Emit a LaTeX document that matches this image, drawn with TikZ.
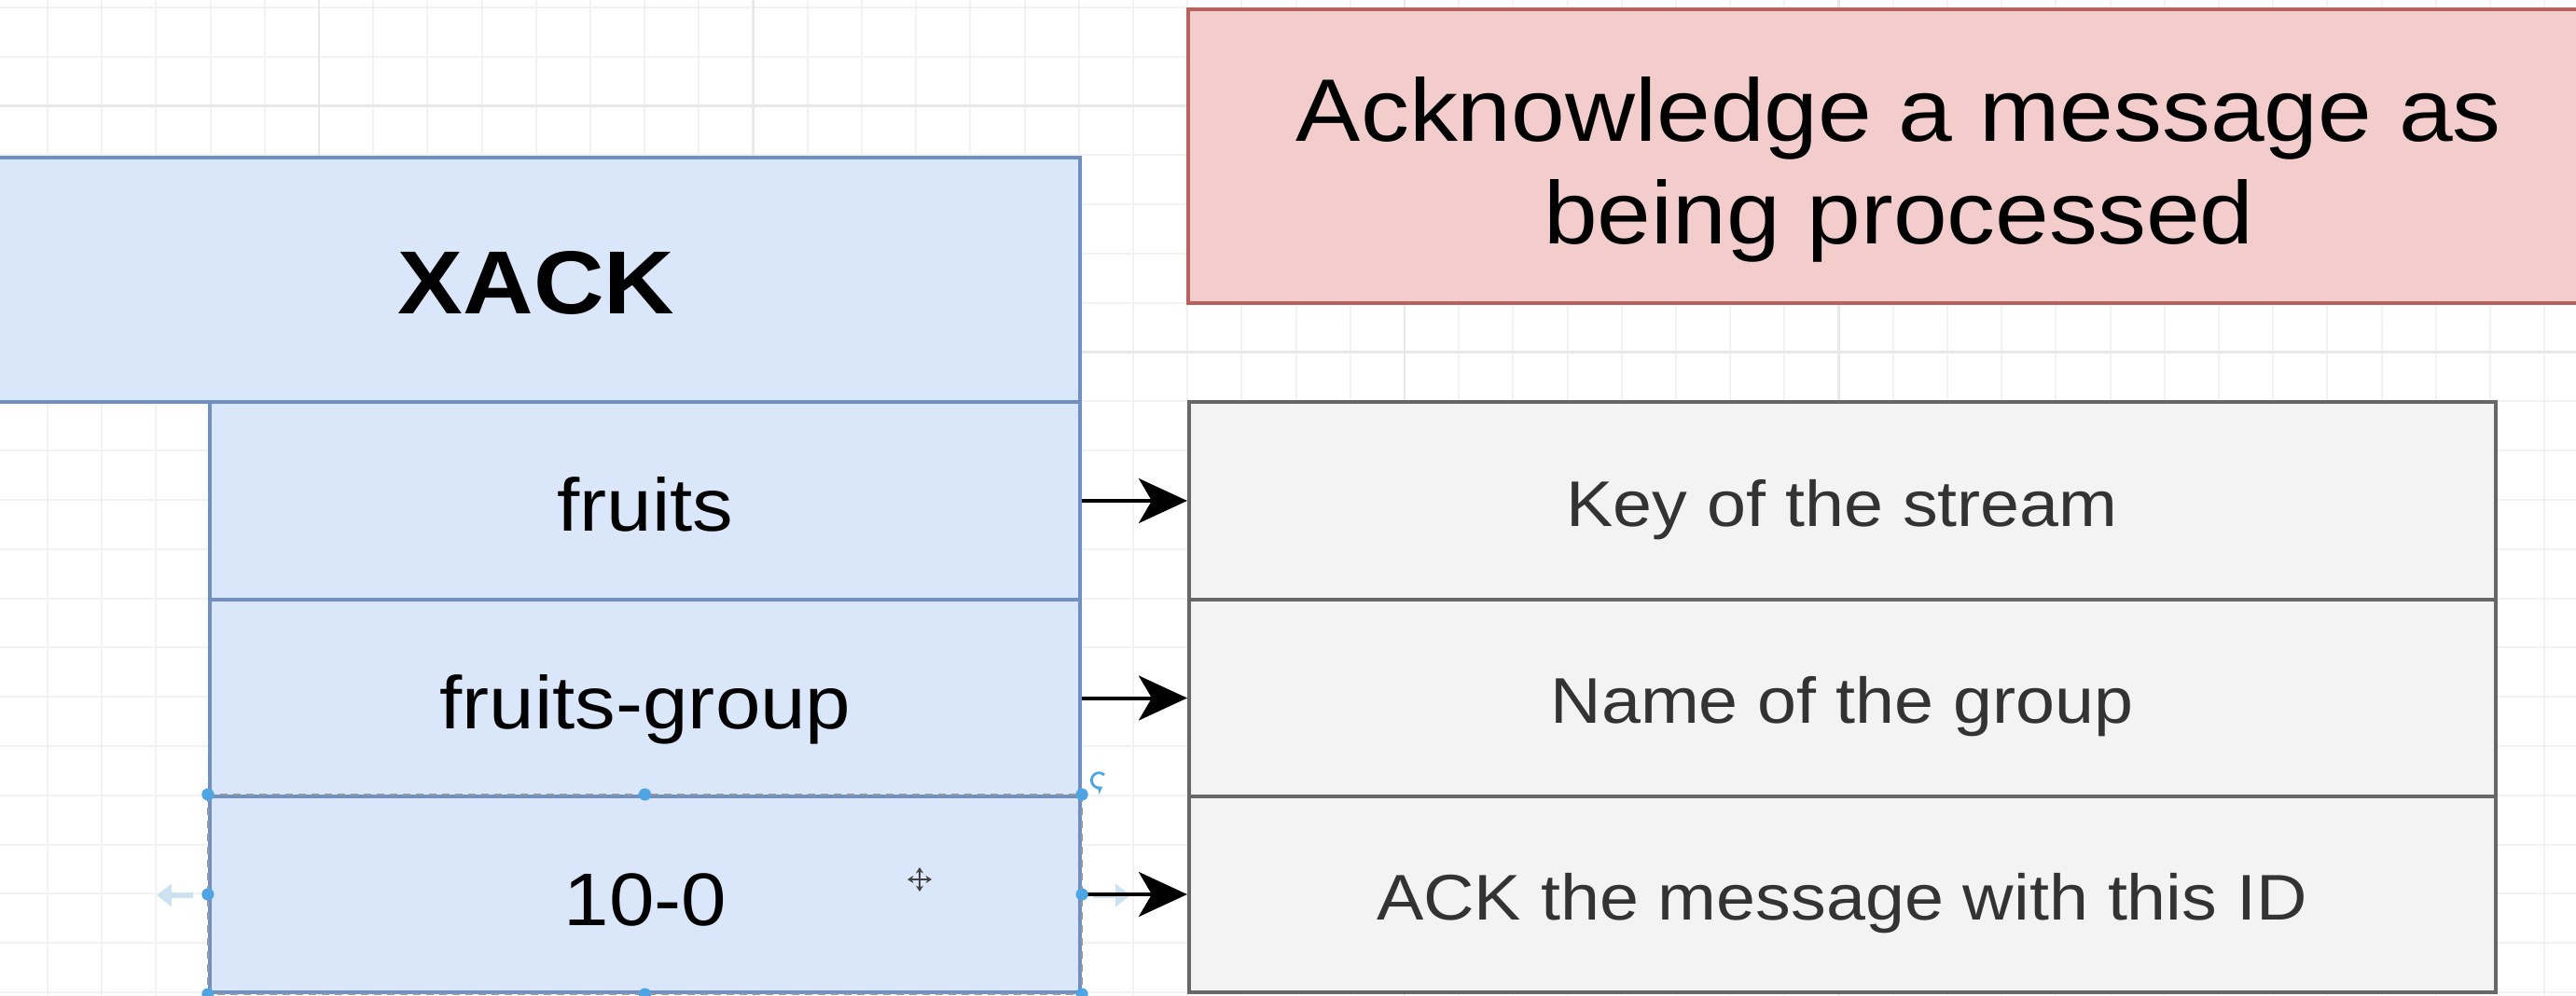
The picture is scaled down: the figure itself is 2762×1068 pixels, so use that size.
\documentclass[tikz,border=0pt]{standalone}
\usepackage{fontspec}
\setmainfont{Liberation Sans}
\usetikzlibrary{arrows.meta,fit,calc}
\definecolor{bfill}{HTML}{DAE6FA}
\definecolor{bline}{HTML}{7190C2}
\definecolor{rfill}{HTML}{F2CDCB}
\definecolor{rline}{HTML}{B7625E}
\definecolor{gfill}{HTML}{F3F3F3}
\definecolor{gline}{HTML}{676767}
\definecolor{gtext}{HTML}{333333}
\definecolor{gridminor}{HTML}{F2F2F2}
\definecolor{gridmajor}{HTML}{E8E8E8}
\definecolor{handle}{HTML}{4FA5E3}
\definecolor{ghost}{HTML}{CCE2F1}
\newcommand\sx[1]{\scalebox{1.09}[1]{#1}}
\begin{document}
\begin{tikzpicture}[x=0.25pt,y=-0.25pt,
  box/.style={inner sep=0pt, line width=1.05pt},
  bluebox/.style={box, draw=bline, fill=bfill},
  graybox/.style={box, draw=gline, fill=gfill},
  redbox/.style={box, draw=rline, fill=rfill},
  lbl/.style={anchor=base, inner sep=0pt},
  bluetext/.style={lbl, font=\fontsize{20}{24}\selectfont},
  graytext/.style={lbl, text=gtext, font=\fontsize{17.3}{20}\selectfont},
  redtext/.style={lbl, font=\fontsize{23.8}{28}\selectfont},
  conn/.style={line width=1pt, -{Stealth[length=13pt,width=12pt,inset=3.5pt]}},
  ghostarrow/.style={ghost, line width=1.6pt, -{Triangle[length=4pt,width=6pt]}},
  hdot/.style={circle, fill=handle, inner sep=0pt, minimum size=3.3pt},
]
\useasboundingbox (0,0) rectangle (2762,1068);
\fill[white] (0,0) rectangle (2762,1068);
\begin{scope}
\clip (0,0) rectangle (2762,1068);
% grid
\foreach \k in {0,...,46} \draw[gridminor, line width=0.5pt] ({51+58.2*\k},0) -- ({51+58.2*\k},1068);
\foreach \k in {0,...,20} \draw[gridminor, line width=0.5pt] (0,{8+52.8*\k}) -- (2762,{8+52.8*\k});
\foreach \k in {5,13,25,33} \draw[gridmajor, line width=0.6pt] ({51+58.2*\k},0) -- ({51+58.2*\k},1068);
\foreach \k in {2,7} \draw[gridmajor, line width=0.6pt] (0,{8+52.8*\k}) -- (2762,{8+52.8*\k});

% corner coordinates
\coordinate (xa) at (-10,169);  \coordinate (xb) at (1158,431);
\coordinate (f1) at (225,431);  \coordinate (f2) at (1158,643);
\coordinate (g1) at (225,643);  \coordinate (g2) at (1158,854);
\coordinate (i1) at (225,854);  \coordinate (i2) at (1158,1064);
\coordinate (k1) at (1275,431); \coordinate (k2) at (2676,643);
\coordinate (n1) at (1275,643); \coordinate (n2) at (2676,854);
\coordinate (a1) at (1275,854); \coordinate (a2) at (2676,1064);
\coordinate (r1) at (1274,10);  \coordinate (r2) at (2830,325);

% red box
\node[redbox, fit=(r1)(r2)] (red) {};
\node[redtext] (ackA) at (2036,152) {\sx{Acknowledge a message as}};
\node[redtext] (ackB) at (2036,262) {\sx{being processed}};

% blue boxes
\node[bluebox, fit=(xa)(xb)] (xack) {};
\node[bluebox, fit=(f1)(f2)] (fruits) {};
\node[bluebox, fit=(g1)(g2)] (group) {};
\node[bluebox, fit=(i1)(i2)] (id) {};
\node[lbl, font=\bfseries\fontsize{24}{28}\selectfont] (xackT) at (575,337) {\sx{XACK}};
\node[bluetext] (fruitsT) at (692,570) {\sx{fruits}};
\node[bluetext] (groupT) at (692,781) {\sx{fruits-group}};
\node[bluetext] (idT) at (692,992) {\sx{10-0}};

% gray boxes
\node[graybox, fit=(k1)(k2)] (key) {};
\node[graybox, fit=(n1)(n2)] (name) {};
\node[graybox, fit=(a1)(a2)] (ackid) {};
\node[graytext] (keyT) at (1975,565) {\sx{Key of the stream}};
\node[graytext] (nameT) at (1975,775) {\sx{Name of the group}};
\node[graytext] (ackidT) at (1975,986) {\sx{ACK the message with this ID}};

% selection overlay on 10-0
\draw[dash pattern=on 2pt off 1.5pt, line width=0.6pt, draw=gray!80] (id.north west) rectangle (id.south east);
\coordinate (gla) at (207,960); \coordinate (glb) at (168,960);
\draw[ghostarrow] (gla) -- (glb);
\coordinate (gra) at (1172,960); \coordinate (grb) at (1212,960);
\draw[ghostarrow] (gra) -- (grb);

% connectors
\draw[conn] (fruits.east) -- (key.west);
\draw[conn] (group.east) -- (name.west);
\draw[conn] (id.east) -- (ackid.west);

% handles
\node[hdot] (h1) at (id.north west) {};
\node[hdot] (h2) at (id.north) {};
\node[hdot] (h3) at (id.north east) {};
\node[hdot] (h4) at (id.west) {};
\node[hdot] (h5) at (id.east) {};
\node[hdot] (h6) at (id.south west) {};
\node[hdot] (h7) at (id.south) {};
\node[hdot] (h8) at (id.south east) {};

% rotate icon
\coordinate (rot) at (1178,837);
\draw[handle, line width=0.7pt, -{Stealth[length=2pt,width=2.5pt]}] ($(rot)+(6,-6)$) arc[start angle=-45, end angle=-300, radius=8];

% move cursor
\coordinate (mv) at (986,943);
\draw[black!75, line width=0.5pt, {Stealth[length=1.6pt,width=2pt]}-{Stealth[length=1.6pt,width=2pt]}] ($(mv)+(-13,0)$) -- ($(mv)+(13,0)$);
\draw[black!75, line width=0.5pt, {Stealth[length=1.6pt,width=2pt]}-{Stealth[length=1.6pt,width=2pt]}] ($(mv)+(0,-13)$) -- ($(mv)+(0,13)$);
\end{scope}
\end{tikzpicture}
\end{document}
